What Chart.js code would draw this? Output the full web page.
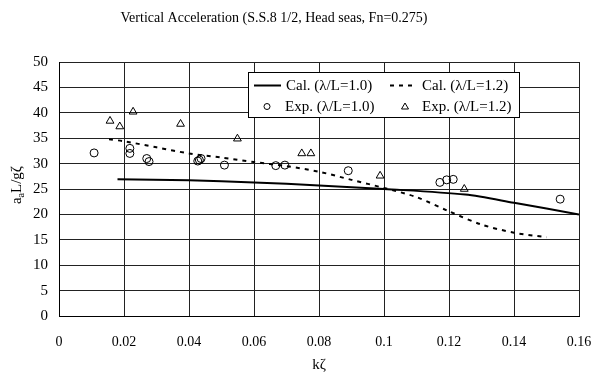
<!DOCTYPE html>
<html><head><meta charset="utf-8">
<script src="https://cdn.jsdelivr.net/npm/chart.js@4.4.1/dist/chart.umd.min.js"></script>
<style>html,body{margin:0;padding:0;background:#fff}#wrap{width:595px;height:376px}</style>
</head><body><div id="wrap"><canvas id="c" width="595" height="376"></canvas></div>
<script>
const titleText = 'Vertical Acceleration (S.S.8 1/2, Head seas, Fn=0.275)';
const xTitle = 'kζ';
const legendLabels = ['Cal. (λ/L=1.0)', 'Cal. (λ/L=1.2)', 'Exp. (λ/L=1.0)', 'Exp. (λ/L=1.2)'];
const xTickLabels = ['0', '0.02', '0.04', '0.06', '0.08', '0.1', '0.12', '0.14', '0.16'];
const yTickLabels = ['0', '5', '10', '15', '20', '25', '30', '35', '40', '45', '50'];

const calX10 = [0.018, 0.04, 0.06, 0.08, 0.1, 0.125, 0.14, 0.16];
const calY10 = [26.9, 26.7, 26.3, 25.7, 25.0, 23.9, 22.3, 20.0];
const calX12 = [0.0154, 0.02, 0.03, 0.04, 0.05, 0.06, 0.07, 0.08, 0.09, 0.1, 0.11, 0.12, 0.13, 0.14, 0.15];
const calY12 = [34.8, 34.4, 33.2, 32.0, 31.2, 30.3, 29.5, 28.4, 26.8, 25.2, 23.4, 20.6, 18.0, 16.4, 15.5];
const expX10 = [0.0108, 0.0218, 0.0218, 0.027, 0.0277, 0.0427, 0.0432, 0.0437, 0.0509, 0.0667, 0.0695, 0.089, 0.1172, 0.1193, 0.1213, 0.1542];
const expY10 = [32.1, 33.0, 32.0, 31.0, 30.4, 30.5, 30.7, 31.0, 29.7, 29.6, 29.7, 28.6, 26.3, 26.8, 26.9, 23.0];
const expX12 = [0.0157, 0.0187, 0.0228, 0.0374, 0.0549, 0.0747, 0.0775, 0.0988, 0.1247];
const expY12 = [38.4, 37.3, 40.2, 37.8, 34.9, 32.0, 32.0, 27.6, 25.0];

const pts = (xs, ys) => xs.map((x, i) => ({x, y: ys[i]}));
const FONT = '"Liberation Serif", "Times New Roman", serif';

const overlay = {
  id: 'overlay',
  afterDraw(chart) {
    const ctx = chart.ctx, a = chart.chartArea;
    ctx.save();
    ctx.fillStyle = '#000';
    ctx.font = '14px ' + FONT;
    ctx.textAlign = 'center'; ctx.textBaseline = 'middle';
    ctx.fillText(titleText, 274, 18);
    ctx.font = '15px ' + FONT;
    ctx.fillText(xTitle, (a.left + a.right) / 2, 365);
    // y title with subscript
    ctx.translate(17, (a.top + a.bottom) / 2 - 4);
    ctx.rotate(-Math.PI / 2);
    const p1 = 'a', p3 = 'L/gζ';
    ctx.font = '10px ' + FONT;
    const wsub = ctx.measureText('a').width;
    ctx.font = '15px ' + FONT;
    const w1 = ctx.measureText(p1).width, w3 = ctx.measureText(p3).width;
    let x0 = -(w1 + wsub + w3) / 2;
    ctx.textAlign = 'left';
    ctx.fillText(p1, x0, 0);
    ctx.font = '10px ' + FONT;
    ctx.fillText('a', x0 + w1, 4);
    ctx.font = '15px ' + FONT;
    ctx.fillText(p3, x0 + w1 + wsub, 0);
    ctx.restore();

    // legend box
    ctx.save();
    const L = a.left + 189, T = a.top + 10, W = 271, H = 45;
    ctx.fillStyle = '#fff';
    ctx.fillRect(L, T, W, H);
    ctx.strokeStyle = '#000'; ctx.lineWidth = 1;
    ctx.strokeRect(L + 0.5, T + 0.5, W, H);
    ctx.fillStyle = '#000';
    ctx.font = '15px ' + FONT;
    ctx.textAlign = 'left'; ctx.textBaseline = 'middle';
    const r1 = T + 13.5, r2 = T + 34.5;
    ctx.lineWidth = 2;
    ctx.beginPath(); ctx.moveTo(L + 6, r1); ctx.lineTo(L + 33, r1); ctx.stroke();
    ctx.fillText(legendLabels[0], L + 38, r1 + 1);
    ctx.setLineDash([4, 5]);
    ctx.beginPath(); ctx.moveTo(L + 142, r1); ctx.lineTo(L + 166, r1); ctx.stroke();
    ctx.setLineDash([]);
    ctx.fillText(legendLabels[1], L + 174, r1 + 1);
    ctx.lineWidth = 1;
    ctx.beginPath(); ctx.arc(L + 19, r2, 3, 0, Math.PI * 2); ctx.stroke();
    ctx.fillText(legendLabels[2], L + 37, r2 + 1);
    ctx.beginPath();
    ctx.moveTo(L + 157, r2 - 3.5); ctx.lineTo(L + 160.5, r2 + 2.5); ctx.lineTo(L + 153.5, r2 + 2.5); ctx.closePath(); ctx.stroke();
    ctx.fillText(legendLabels[3], L + 174, r2 + 1);
    ctx.restore();
  }
};

new Chart(document.getElementById('c'), {
  type: 'scatter',
  data: {
    datasets: [
      {label: legendLabels[0], data: pts(calX10, calY10), showLine: true, borderColor: '#000', borderWidth: 2, pointRadius: 0, tension: 0.3, order: 3},
      {label: legendLabels[1], data: pts(calX12, calY12), showLine: true, borderColor: '#000', borderWidth: 2, borderDash: [4, 5], pointRadius: 0, tension: 0.3, order: 4},
      {label: legendLabels[2], data: pts(expX10, expY10), showLine: false, borderColor: '#000', backgroundColor: 'rgba(0,0,0,0)', borderWidth: 1, pointStyle: 'circle', pointRadius: 4, order: 1},
      {label: legendLabels[3], data: pts(expX12, expY12), showLine: false, borderColor: '#000', backgroundColor: 'rgba(0,0,0,0)', borderWidth: 1, pointStyle: 'triangle', pointRadius: 4.5, order: 2}
    ]
  },
  options: {
    responsive: false,
    animation: false,
    layout: {padding: {top: 62, right: 16, left: 0, bottom: 0}},
    plugins: {legend: {display: false}, tooltip: {enabled: false}, title: {display: false}},
    scales: {
      x: {
        type: 'linear', min: 0, max: 0.16,
        afterFit: s => { s.height = 60; s.paddingLeft = 0; s.paddingRight = 0; },
        ticks: {stepSize: 0.02, color: '#000', font: {family: FONT, size: 14}, padding: 18, maxRotation: 0,
          callback: (v, i) => xTickLabels[i]},
        grid: {color: '#222', lineWidth: 1, drawTicks: false},
        border: {color: '#000', width: 1}
      },
      y: {
        type: 'linear', min: 0, max: 50,
        afterFit: s => { s.width = 59; s.paddingTop = 0; s.paddingBottom = 0; },
        ticks: {stepSize: 5, color: '#000', font: {family: FONT, size: 15}, padding: 11,
          callback: (v, i) => yTickLabels[i]},
        grid: {color: '#222', lineWidth: 1, drawTicks: false},
        border: {color: '#000', width: 1}
      }
    }
  },
  plugins: [overlay]
});
</script></body></html>
